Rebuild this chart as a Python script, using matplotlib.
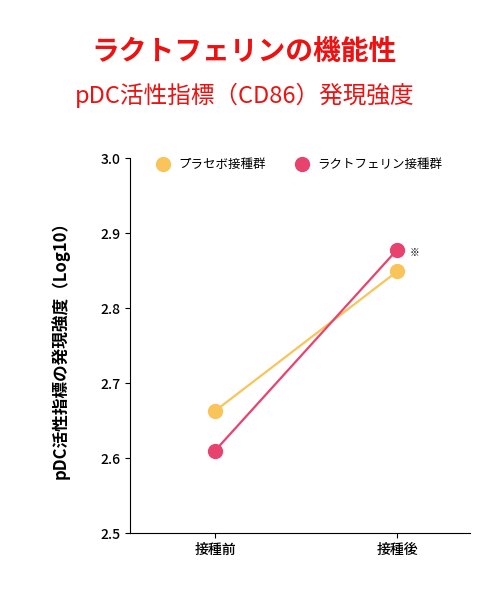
import matplotlib
matplotlib.use("Agg")
import matplotlib.pyplot as plt

plt.rcParams['font.family'] = ['Noto Sans CJK JP', 'DejaVu Sans']

categories = ["接種前", "接種後"]
placebo = [2.663, 2.849]
lacto = [2.610, 2.878]
series_names = ["プラセボ接種群", "ラクトフェリン接種群"]
yticks = [2.5, 2.6, 2.7, 2.8, 2.9, 3.0]

fig = plt.figure(figsize=(4.89, 5.95), dpi=100)
ax = fig.add_axes([0.266, 0.104, 0.695, 0.630])
x = range(len(categories))
ax.plot(x, placebo, color="#F9C55A", lw=1.6, marker="o", ms=10, label=series_names[0])
ax.plot(x, lacto, color="#E8436F", lw=1.6, marker="o", ms=10, label=series_names[1])
ax.text(1.07, 2.878 - 0.005, "※", fontsize=7, va="center", ha="left")
ax.set_xlim(-0.467, 1.40)
ax.set_ylim(2.5, 3.0)
ax.set_yticks(yticks)
ax.set_yticklabels([f"{v:.1f}" for v in yticks])
ax.set_xticks(list(x))
ax.set_xticklabels(categories)
for s in ["top", "right"]:
    ax.spines[s].set_visible(False)
ax.tick_params(labelsize=10)
for lab in ax.get_xticklabels() + ax.get_yticklabels():
    lab.set_fontweight("medium")
ax.set_ylabel("pDC活性指標の発現強度（Log10）", fontsize=12, fontweight="bold", labelpad=22)
ax.legend(loc="upper left", bbox_to_anchor=(0.05, 1.03), ncol=2, frameon=False,
          fontsize=9, handlelength=0.8, columnspacing=2.5)

fig.text(0.5, 1 - 52/595, "ラクトフェリンの機能性", color="#EE1111", fontsize=20,
         fontweight="bold", ha="center", va="center")
fig.text(0.5, 1 - 95/595, "pDC活性指標（CD86）発現強度", color="#EE1111", fontsize=17,
         ha="center", va="center")
fig.savefig("out.png", dpi=100)
